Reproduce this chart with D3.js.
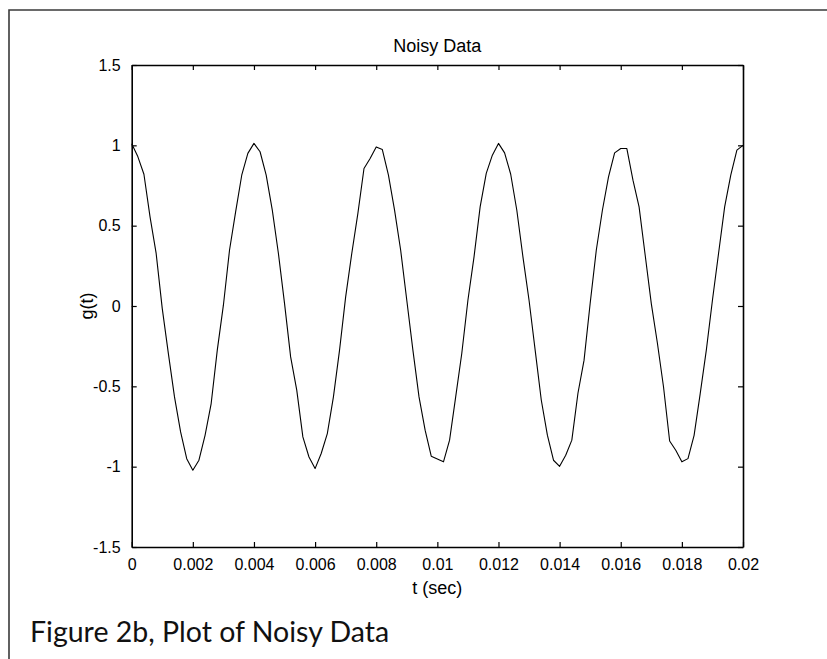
<!DOCTYPE html>
<html>
<head>
<meta charset="utf-8">
<script src="https://cdn.jsdelivr.net/npm/d3@7"></script>
<style>
  body { margin: 0; background: #fff; }
  svg { display: block; }
</style>
</head>
<body>
<script>
// Sample times (sec), one sample every 0.0002 s
const timeSec = [
  0, 0.0002, 0.0004, 0.0006, 0.0008, 0.001, 0.0012, 0.0014, 0.0016, 0.0018,
  0.002, 0.0022, 0.0024, 0.0026, 0.0028, 0.003, 0.0032, 0.0034, 0.0036, 0.0038,
  0.004, 0.0042, 0.0044, 0.0046, 0.0048, 0.005, 0.0052, 0.0054, 0.0056, 0.0058,
  0.006, 0.0062, 0.0064, 0.0066, 0.0068, 0.007, 0.0072, 0.0074, 0.0076, 0.0078,
  0.008, 0.0082, 0.0084, 0.0086, 0.0088, 0.009, 0.0092, 0.0094, 0.0096, 0.0098,
  0.01, 0.0102, 0.0104, 0.0106, 0.0108, 0.011, 0.0112, 0.0114, 0.0116, 0.0118,
  0.012, 0.0122, 0.0124, 0.0126, 0.0128, 0.013, 0.0132, 0.0134, 0.0136, 0.0138,
  0.014, 0.0142, 0.0144, 0.0146, 0.0148, 0.015, 0.0152, 0.0154, 0.0156, 0.0158,
  0.016, 0.0162, 0.0164, 0.0166, 0.0168, 0.017, 0.0172, 0.0174, 0.0176, 0.0178,
  0.018, 0.0182, 0.0184, 0.0186, 0.0188, 0.019, 0.0192, 0.0194, 0.0196, 0.0198,
  0.02
];

// Noisy signal g(t)
const gValues = [
  1.01, 0.93, 0.82, 0.555, 0.327, -0.016, -0.296, -0.566, -0.784, -0.95,
  -1.022, -0.96, -0.805, -0.607, -0.275, 0.005, 0.347, 0.586, 0.814, 0.95,
  1.012, 0.96, 0.814, 0.597, 0.327, 0.016, -0.317, -0.524, -0.815, -0.94,
  -1.012, -0.918, -0.794, -0.566, -0.275, 0.057, 0.327, 0.576, 0.856, 0.918,
  0.99, 0.974, 0.814, 0.597, 0.347, 0.036, -0.275, -0.566, -0.773, -0.935,
  -0.952, -0.97, -0.835, -0.566, -0.294, 0.036, 0.306, 0.617, 0.825, 0.939,
  1.012, 0.953, 0.82, 0.596, 0.306, 0.036, -0.275, -0.585, -0.804, -0.96,
  -0.998, -0.929, -0.835, -0.543, -0.337, 0.017, 0.347, 0.596, 0.804, 0.953,
  0.98, 0.98, 0.783, 0.617, 0.316, 0.015, -0.232, -0.504, -0.84, -0.898,
  -0.97, -0.95, -0.805, -0.545, -0.275, 0.036, 0.327, 0.617, 0.814, 0.97,
  1.0
];

// Axis ticks and labels
const xTicks = [0, 0.002, 0.004, 0.006, 0.008, 0.01, 0.012, 0.014, 0.016, 0.018, 0.02];
const xTickLabels = ["0", "0.002", "0.004", "0.006", "0.008", "0.01", "0.012", "0.014", "0.016", "0.018", "0.02"];
const yTicks = [-1.5, -1, -0.5, 0, 0.5, 1, 1.5];
const yTickLabels = ["-1.5", "-1", "-0.5", "0", "0.5", "1", "1.5"];

const chartTitle = "Noisy Data";
const xLabel = "t (sec)";
const yLabel = "g(t)";
const caption = "Figure 2b, Plot of Noisy Data";

// Set up SVG container
const width = 827;
const height = 659;
const svg = d3.select("body").append("svg")
    .attr("width", width)
    .attr("height", height);

const plot = { left: 131.7, right: 743, top: 65, bottom: 547 };
const tickFont = "'Liberation Sans', Arial, sans-serif";

// Scales
const x = d3.scaleLinear().domain([0, 0.02]).range([plot.left, plot.right]);
const y = d3.scaleLinear().domain([-1.5, 1.5]).range([plot.bottom, plot.top]);

// Outer frame of the figure box (runs off to the right and bottom)
svg.append("path")
    .attr("d", `M9,${height + 5} L9,10 L${width + 5},10`)
    .attr("fill", "none")
    .attr("stroke", "#3a3a3a")
    .attr("stroke-width", 1.6);

// Data line
const line = d3.line()
    .x((d, i) => x(timeSec[i]))
    .y(d => y(d));

svg.append("path")
    .datum(gValues)
    .attr("d", line)
    .attr("fill", "none")
    .attr("stroke", "#000")
    .attr("stroke-width", 1.1)
    .attr("stroke-linejoin", "round");

// Axes with inward ticks on all four sides (MATLAB box style)
function styleAxis(g) {
    g.select(".domain").attr("stroke", "#000").attr("stroke-width", 1.6);
    g.selectAll(".tick line").attr("stroke", "#000").attr("stroke-width", 1.2);
    g.selectAll(".tick text")
        .attr("font-family", tickFont)
        .attr("font-size", 16)
        .attr("fill", "#000");
}

svg.append("g")
    .attr("transform", `translate(0,${plot.bottom})`)
    .call(d3.axisBottom(x).tickValues(xTicks).tickFormat((d, i) => xTickLabels[i])
        .tickSizeInner(-5).tickSizeOuter(0).tickPadding(12))
    .call(styleAxis);

svg.append("g")
    .attr("transform", `translate(0,${plot.top})`)
    .call(d3.axisTop(x).tickValues(xTicks).tickFormat("")
        .tickSizeInner(-5).tickSizeOuter(0))
    .call(styleAxis);

svg.append("g")
    .attr("transform", `translate(${plot.left},0)`)
    .call(d3.axisLeft(y).tickValues(yTicks).tickFormat((d, i) => yTickLabels[i])
        .tickSizeInner(-5).tickSizeOuter(0).tickPadding(11))
    .call(styleAxis);

svg.append("g")
    .attr("transform", `translate(${plot.right},0)`)
    .call(d3.axisRight(y).tickValues(yTicks).tickFormat("")
        .tickSizeInner(-5).tickSizeOuter(0))
    .call(styleAxis);

// Title and axis labels
svg.append("text")
    .attr("x", (plot.left + plot.right) / 2)
    .attr("y", 51.5)
    .attr("text-anchor", "middle")
    .attr("font-family", tickFont)
    .attr("font-size", 18)
    .text(chartTitle);

svg.append("text")
    .attr("x", (plot.left + plot.right) / 2)
    .attr("y", 594)
    .attr("text-anchor", "middle")
    .attr("font-family", tickFont)
    .attr("font-size", 18)
    .text(xLabel);

svg.append("text")
    .attr("transform", `translate(93,${(plot.top + plot.bottom) / 2}) rotate(-90)`)
    .attr("text-anchor", "middle")
    .attr("font-family", tickFont)
    .attr("font-size", 18)
    .text(yLabel);

// Caption under the figure
svg.append("text")
    .attr("x", 30)
    .attr("y", 642)
    .attr("font-family", "Lato, 'Open Sans', sans-serif")
    .attr("font-size", 28.5)
    .attr("fill", "#111")
    .text(caption);
</script>
</body>
</html>
